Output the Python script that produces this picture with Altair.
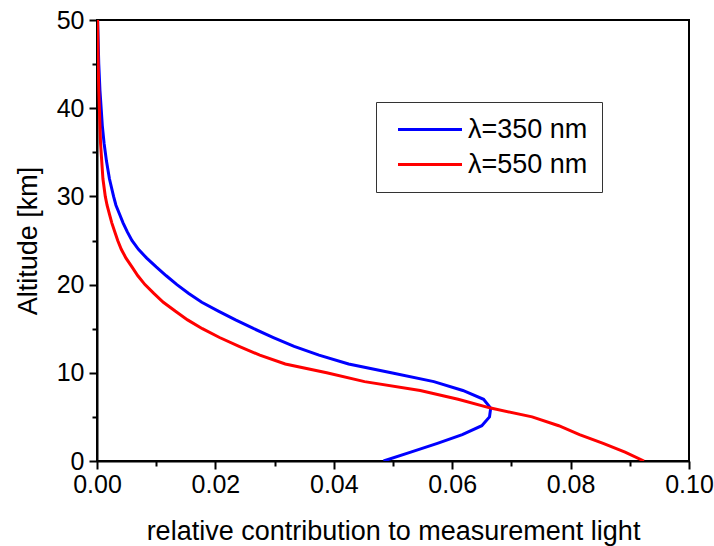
import altair as alt
import pandas as pd

# Altitude grid [km] and relative contribution profiles for two wavelengths
altitude = [0, 1, 2, 3, 4, 5, 6, 7, 8, 9, 10, 11, 12, 13, 14, 15, 16, 17, 18, 19,
            20, 21, 22, 23, 24, 25, 26, 27, 28, 29, 30, 32, 34, 36, 38, 40, 42, 45, 50]

contrib_350 = [0.0484, 0.0530, 0.0575, 0.0617, 0.0650, 0.0663, 0.0665, 0.0653, 0.0618,
               0.0569, 0.0497, 0.0425, 0.0375, 0.0333, 0.0298, 0.0265, 0.0234, 0.0205,
               0.0177, 0.0155, 0.0135, 0.0117, 0.0100, 0.0084, 0.0070, 0.0059, 0.0051,
               0.0044, 0.0038, 0.0032, 0.0028, 0.0021, 0.0016, 0.0012, 0.0009, 0.0007,
               0.0005, 0.0003, 0.0001]

contrib_550 = [0.0924, 0.0892, 0.0855, 0.0815, 0.0780, 0.0735, 0.0665, 0.0610, 0.0546,
               0.0452, 0.0388, 0.0318, 0.0275, 0.0240, 0.0207, 0.0178, 0.0153, 0.0132,
               0.0112, 0.0096, 0.0081, 0.0069, 0.0059, 0.0049, 0.0041, 0.0035, 0.0030,
               0.0025, 0.0021, 0.0017, 0.0014, 0.0010, 0.0008, 0.0006, 0.0005, 0.0004,
               0.0003, 0.0002, 0.0001]

series_names = ["λ=350 nm", "λ=550 nm"]
series_colors = ["#0000ff", "#ff0000"]

x_ticks = [round(i * 0.01, 2) for i in range(11)]
y_ticks = list(range(0, 51, 5))

rows = []
for name, values in zip(series_names, [contrib_350, contrib_550]):
    for a, v in zip(altitude, values):
        rows.append({"series": name, "altitude": a, "contribution": v})
df = pd.DataFrame(rows)

FONT = "Liberation Sans"

# Long horizontal line sample for the legend (path units scale with sqrt(size)/2)
LEGEND_LINE = "M-0.6875,0H7.3125"

chart = (
    alt.Chart(df)
    .mark_line(strokeWidth=3, clip=True)
    .encode(
        x=alt.X(
            "contribution:Q",
            scale=alt.Scale(domain=[0, 0.1], nice=False, zero=False),
            axis=alt.Axis(
                title="relative contribution to measurement light",
                values=x_ticks,
                format=".2f",
                labelExpr="round(datum.value * 100) % 2 == 0 ? datum.label : ''",
                tickSize={"condition": {"test": "round(datum.value * 100) % 2 == 0", "value": 8}, "value": 5},
                labelOverlap=False,
                labelFlush=False,
                labelPadding=3,
                titlePadding=21,
            ),
        ),
        y=alt.Y(
            "altitude:Q",
            scale=alt.Scale(domain=[0, 50], nice=False),
            axis=alt.Axis(
                title="Altitude [km]",
                values=y_ticks,
                format=".0f",
                labelExpr="datum.value % 10 == 0 ? datum.label : ''",
                tickSize={"condition": {"test": "datum.value % 10 == 0", "value": 8}, "value": 5},
                labelOverlap=False,
                labelFlush=False,
                labelPadding=5,
                titlePadding=14,
            ),
        ),
        color=alt.Color(
            "series:N",
            scale=alt.Scale(domain=series_names, range=series_colors),
            legend=alt.Legend(
                title=None,
                orient="none",
                legendX=279,
                legendY=82,
                symbolType=LEGEND_LINE,
                symbolSize=256,
                symbolStrokeWidth=3,
                labelOffset=51,
                labelFontSize=27,
                labelFont=FONT,
                labelColor="black",
                padding=14,
                rowPadding=7,
                strokeColor="#333333",
                fillColor="white",
            ),
        ),
        order=alt.Order("altitude:Q"),
    )
    .properties(
        width=592,
        height=441,
        background="white",
        autosize=alt.AutoSizeParams(type="none"),
        padding={"left": 97, "top": 20, "right": 25, "bottom": 85},
    )
    .configure_view(stroke="black", strokeWidth=2)
    .configure_axis(
        domainColor="black",
        domainWidth=2,
        tickColor="black",
        tickWidth=2,
        labelFont=FONT,
        labelFontSize=25,
        labelColor="black",
        titleFont=FONT,
        titleFontSize=27,
        titleFontWeight="normal",
        titleColor="black",
        grid=False,
    )
)

chart.save("out.html", embed_options={"renderer": "svg", "actions": False})
